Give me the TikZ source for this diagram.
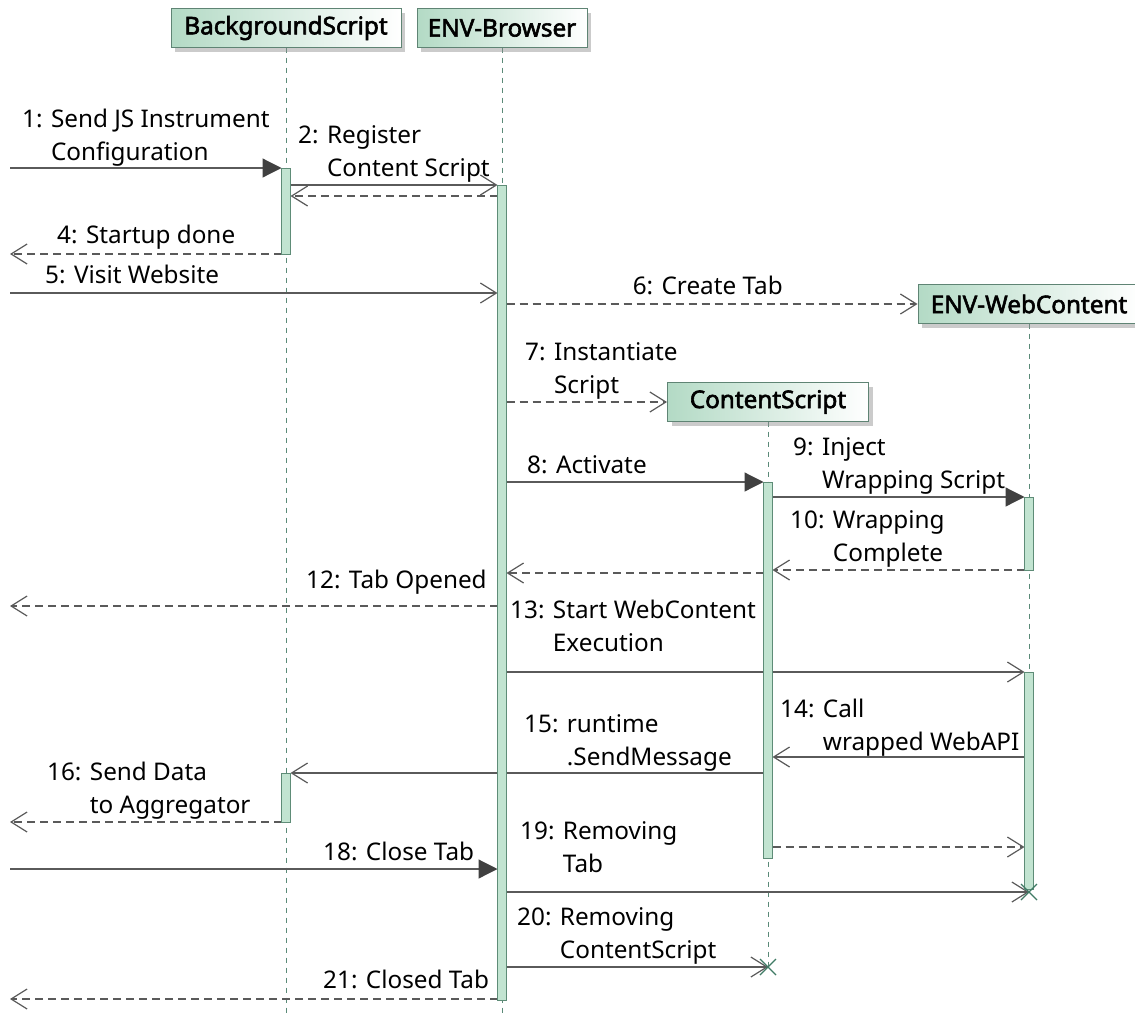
\documentclass[tikz,border=0pt]{standalone}
\usepackage{fontspec}
\setmainfont{Noto Sans}
\newfontfamily\headfont{Noto Sans}[FakeBold=2.4]
\usetikzlibrary{arrows.meta,shadows}
\definecolor{lifeclr}{HTML}{5B8A78}
\definecolor{barfill}{HTML}{C2E4D1}
\definecolor{barline}{HTML}{5E8C77}
\definecolor{hdrgreen}{HTML}{B3DAC5}
\definecolor{hdrline}{HTML}{5F8474}
\definecolor{msgclr}{HTML}{5A5A5A}
\definecolor{headclr}{HTML}{404040}
\definecolor{killclr}{HTML}{3F7B65}
\begin{document}
\begin{tikzpicture}[x=1pt,y=-1pt,
  lbl/.style={font=\fontsize{24.3}{33}\selectfont, inner sep=0pt, align=left, anchor=base west},
  lblr/.style={lbl, anchor=base east},
  participant/.style={draw=hdrline, line width=1pt, left color=hdrgreen, right color=white,
    font=\headfont\fontsize{24.3}{33}\selectfont, minimum height=39pt, inner sep=0pt,
    drop shadow={shadow xshift=4pt, shadow yshift=-4pt, fill=black!45, opacity=0.45}},
  lifeline/.style={draw=lifeclr, line width=1pt, dash pattern=on 5pt off 5pt},
  msg/.style={draw=msgclr, line width=1.2pt},
  ret/.style={msg, dash pattern=on 8pt off 5pt, -{Straight Barb[length=16pt,width=20pt]}},
  async/.style={msg, -{Straight Barb[length=16pt,width=20pt]}},
  sync/.style={msg, -{Triangle[length=19pt,width=19pt,color=headclr,fill=headclr]}},
  bar/.style={fill=barfill, draw=barline, line width=1pt},
  kill/.style={draw=killclr, line width=1.3pt}
]
\fill[white] (0,0) rectangle (1135,1015);
\useasboundingbox (0,0) rectangle (1135,1015);

% participant centres
\path (286,28) coordinate (bgc) (502,28) coordinate (brc)
      (1029,304) coordinate (wcc) (768,402) coordinate (csc);

% lifelines
\coordinate (bgEnd) at (286,1015);
\coordinate (brEnd) at (502,1015);
\coordinate (csTop) at (768,421.5);
\coordinate (csEnd) at (768,967);
\coordinate (wcTop) at (1029,323.5);
\coordinate (wcEnd) at (1029,892);
\draw[lifeline] (286,47.5) -- (bgEnd);
\draw[lifeline] (502,47.5) -- (brEnd);
\draw[lifeline] (csTop) -- (csEnd);
\draw[lifeline] (wcTop) -- (wcEnd);

% participant heads
\node[participant, minimum width=230pt] (bg) at (bgc) {BackgroundScript};
\node[participant, minimum width=170pt] (br) at (brc) {ENV-Browser};
\node[participant, minimum width=222pt] (wc) at (wcc) {ENV-WebContent};
\node[participant, minimum width=201pt] (cs) at (csc) {ContentScript};

% message end points
\coordinate (in1) at (10,168);   \coordinate (bg1) at (281.5,168);
\coordinate (bg2) at (290.5,185); \coordinate (br2) at (497.5,185);
\coordinate (br3) at (497.5,196); \coordinate (bg3) at (290.5,196);
\coordinate (bg4) at (281.5,254); \coordinate (out4) at (10,254);
\coordinate (in5) at (10,293);   \coordinate (br5) at (497.5,293);
\coordinate (br6) at (506.5,304);
\coordinate (br7) at (506.5,402);
\coordinate (br8) at (506.5,482); \coordinate (cs8) at (763.5,482);
\coordinate (cs9) at (772.5,497); \coordinate (wc9) at (1024.5,497);
\coordinate (wc10) at (1024.5,570); \coordinate (cs10) at (772.5,570);
\coordinate (cs11) at (763.5,573); \coordinate (br11) at (506.5,573);
\coordinate (br12) at (497.5,606); \coordinate (out12) at (10,606);
\coordinate (br13) at (506.5,672); \coordinate (wc13) at (1024.5,672);
\coordinate (wc14) at (1024.5,757); \coordinate (cs14) at (772.5,757);
\coordinate (cs15) at (763.5,773); \coordinate (bg15) at (290.5,773);
\coordinate (bg16) at (281.5,822); \coordinate (out16) at (10,822);
\coordinate (cs17) at (772.5,847); \coordinate (wc17) at (1024.5,847);
\coordinate (in18) at (10,869);  \coordinate (br18) at (497.5,869);
\coordinate (br19) at (506.5,892);
\coordinate (br20) at (506.5,967);
\coordinate (br21) at (497.5,999); \coordinate (out21) at (10,999);

% messages
\draw[sync]  (in1) -- (bg1);
\draw[async] (bg2) -- (br2);
\draw[ret]   (br3) -- (bg3);
\draw[ret]   (bg4) -- (out4);
\draw[async] (in5) -- (br5);
\draw[ret]   (br6) -- (wc.west);
\draw[ret]   (br7) -- (cs.west);
\draw[sync]  (br8) -- (cs8);
\draw[sync]  (cs9) -- (wc9);
\draw[ret]   (wc10) -- (cs10);
\draw[ret]   (cs11) -- (br11);
\draw[ret]   (br12) -- (out12);
\draw[async] (br13) -- (wc13);
\draw[async] (wc14) -- (cs14);
\draw[async] (cs15) -- (bg15);
\draw[ret]   (bg16) -- (out16);
\draw[ret]   (cs17) -- (wc17);
\draw[sync]  (in18) -- (br18);
\draw[async] (br19) -- (wcEnd);
\draw[async] (br20) -- (csEnd);
\draw[ret]   (br21) -- (out21);

% activation bars
\path[bar] (281.5,168) rectangle (290.5,254);
\path[bar] (497.5,185) rectangle (506.5,1000);
\path[bar] (763.5,482) rectangle (772.5,858);
\path[bar] (1024.5,497) rectangle (1033.5,570);
\path[bar] (1024.5,672) rectangle (1033.5,889);
\path[bar] (281.5,773) rectangle (290.5,822);

% destruction marks
\draw[kill] (wcEnd) +(-8,-8) -- +(8,8) +(-8,8) -- +(8,-8);
\draw[kill] (csEnd) +(-8,-8) -- +(8,8) +(-8,8) -- +(8,-8);

% message labels
\node[lbl] (t1) at (22,160) {1: Send JS Instrument\\\hphantom{1: }Configuration};
\node[lbl] (t2) at (298,176) {2: Register\\\hphantom{2: }Content Script};
\node[lbl] (t4) at (57,243) {4: Startup done};
\node[lbl] (t5) at (45,283) {5: Visit Website};
\node[lblr] (t6) at (783,294) {6: Create Tab};
\node[lbl] (t7) at (525,393) {7: Instantiate\\\hphantom{7: }Script};
\node[lbl] (t8) at (527,473) {8: Activate};
\node[lbl] (t9) at (793,488) {9: Inject\\\hphantom{9: }Wrapping Script};
\node[lbl] (t10) at (790,561) {10: Wrapping\\\hphantom{10: }Complete};
\node[lbl] (t12) at (306,588) {12: Tab Opened};
\node[lbl] (t13) at (510,651) {13: Start WebContent\\\hphantom{13: }Execution};
\node[lbl] (t14) at (780,750) {14: Call\\\hphantom{14: }wrapped WebAPI};
\node[lbl] (t15) at (524,765) {15: runtime\\\hphantom{15: }.SendMessage};
\node[lbl] (t16) at (47,813) {16: Send Data\\\hphantom{16: }to Aggregator};
\node[lbl] (t18) at (323,860) {18: Close Tab};
\node[lbl] (t19) at (520,872) {19: Removing\\\hphantom{19: }Tab};
\node[lbl] (t20) at (517,958) {20: Removing\\\hphantom{20: }ContentScript};
\node[lbl] (t21) at (323,988) {21: Closed Tab};
\end{tikzpicture}
\end{document}
